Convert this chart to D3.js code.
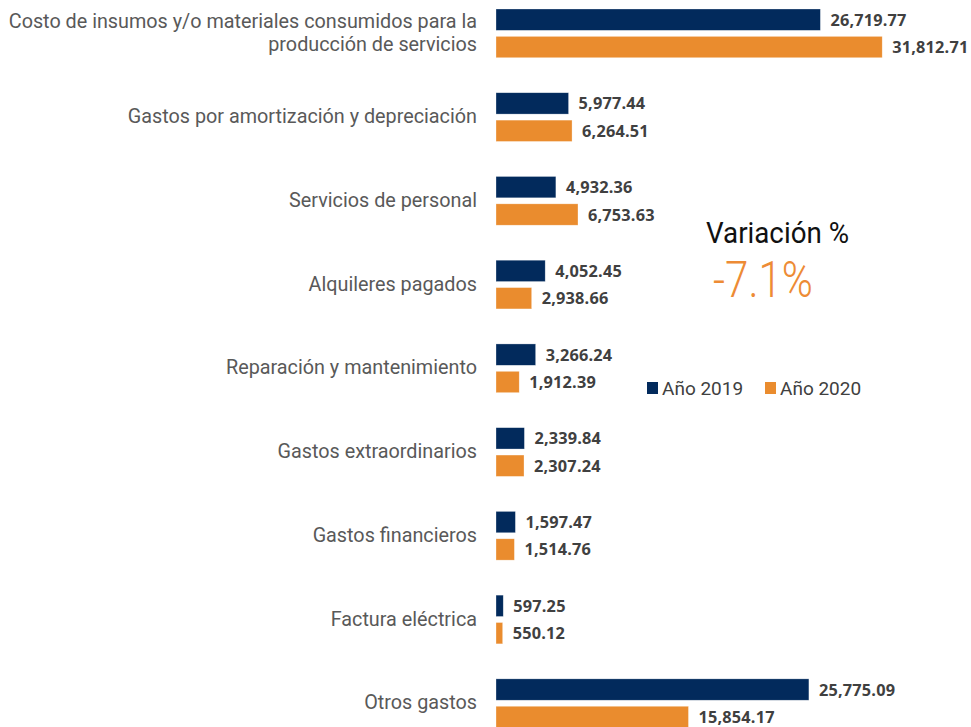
<!DOCTYPE html>
<html>
<head>
<meta charset="utf-8">
<script src="https://cdn.jsdelivr.net/npm/d3@7"></script>
<style>
  html, body { margin: 0; padding: 0; background: #fff; }
  svg { display: block; }
</style>
</head>
<body>
<svg id="chart"></svg>
<script>
// data
const categories = [
  "Costo de insumos y/o materiales consumidos para la\nproducción de servicios",
  "Gastos por amortización y depreciación",
  "Servicios de personal",
  "Alquileres pagados",
  "Reparación y mantenimiento",
  "Gastos extraordinarios",
  "Gastos financieros",
  "Factura eléctrica",
  "Otros gastos"
];
const years = ["Año 2019", "Año 2020"];
const values2019 = [26719.77, 5977.44, 4932.36, 4052.45, 3266.24, 2339.84, 1597.47, 597.25, 25775.09];
const values2020 = [31812.71, 6264.51, 6753.63, 2938.66, 1912.39, 2307.24, 1514.76, 550.12, 15854.17];
const barColors = ["#022a5c", "#ea8c2e"];

const W = 971, H = 727;
const svg = d3.select("#chart").attr("width", W).attr("height", H);

const rows = categories.map((c, i) => ({
  cat: c,
  vals: [values2019[i], values2020[i]]
}));

const x = d3.scaleLinear().domain([0, 32000]).range([496, 496 + 32000 * 0.01214]);

const y = d3.scaleBand()
  .domain(categories)
  .range([9, 727.6])
  .paddingInner(0.418)
  .paddingOuter(0);

const ySub = d3.scaleBand()
  .domain(years)
  .range([0, y.bandwidth()])
  .paddingInner(0.22);

const color = d3.scaleOrdinal(years, barColors);
const fmt = d3.format(",.2f");

// category labels
rows.forEach((r) => {
  const lines = r.cat.split("\n");
  const cy = y(r.cat) + y.bandwidth() / 2 + 6;
  const t = svg.append("text")
    .attr("text-anchor", "end")
    .style("font-family", "Roboto, sans-serif")
    .style("font-size", "19.8px")
    .style("fill", "#595959");
  lines.forEach((ln, k) => {
    t.append("tspan")
      .attr("x", 477)
      .attr("y", cy + (k - (lines.length - 1) / 2) * 23.4)
      .text(ln);
  });
});

// bars + value labels
const g = svg.selectAll("g.row")
  .data(rows)
  .join("g")
  .attr("class", "row")
  .attr("transform", (d) => `translate(0,${y(d.cat)})`);

g.selectAll("rect")
  .data((d) => d.vals.map((v, k) => ({ year: years[k], v })))
  .join("rect")
  .attr("x", x(0))
  .attr("y", (d) => ySub(d.year))
  .attr("width", (d) => x(d.v) - x(0))
  .attr("height", ySub.bandwidth())
  .attr("fill", (d) => color(d.year))
  .attr("stroke", "#ffffff")
  .attr("stroke-opacity", 0.5)
  .attr("stroke-width", 0.6);

g.selectAll("text.val")
  .data((d) => d.vals.map((v, k) => ({ year: years[k], v })))
  .join("text")
  .attr("class", "val")
  .attr("x", (d) => x(d.v) + 10)
  .attr("y", (d) => ySub(d.year) + ySub.bandwidth() / 2 + 6)
  .style("font-family", "'Open Sans', sans-serif")
  .style("font-weight", 700)
  .style("font-size", "16.3px")
  .style("letter-spacing", "0.2px")
  .style("fill", "#404040")
  .text((d) => fmt(d.v));

// variation box
const total2019 = d3.sum(values2019);
const total2020 = d3.sum(values2020);
const variation = ((total2020 / total2019 - 1) * 100).toFixed(1) + "%";

svg.append("text")
  .attr("x", 706)
  .attr("y", 243.3)
  .attr("textLength", 143)
  .attr("lengthAdjust", "spacingAndGlyphs")
  .style("font-family", "Roboto, sans-serif")
  .style("font-size", "30px")
  .style("fill", "#111111")
  .text("Variación %");

svg.append("text")
  .attr("x", 713)
  .attr("y", 297.3)
  .attr("textLength", 100)
  .attr("lengthAdjust", "spacingAndGlyphs")
  .style("font-family", "Roboto, sans-serif")
  .style("font-weight", 300)
  .style("font-size", "50px")
  .style("fill", "#ed8b35")
  .text(variation);

// legend
const legendX = [647, 765];
const legend = svg.selectAll("g.legend")
  .data(years)
  .join("g")
  .attr("class", "legend")
  .attr("transform", (d, i) => `translate(${legendX[i]},382)`);

legend.append("rect")
  .attr("width", 11)
  .attr("height", 12)
  .attr("fill", (d) => color(d));

legend.append("text")
  .attr("x", 15)
  .attr("y", 12.5)
  .style("font-family", "Roboto, sans-serif")
  .style("font-size", "19px")
  .style("fill", "#404040")
  .text((d) => d);
</script>
</body>
</html>
